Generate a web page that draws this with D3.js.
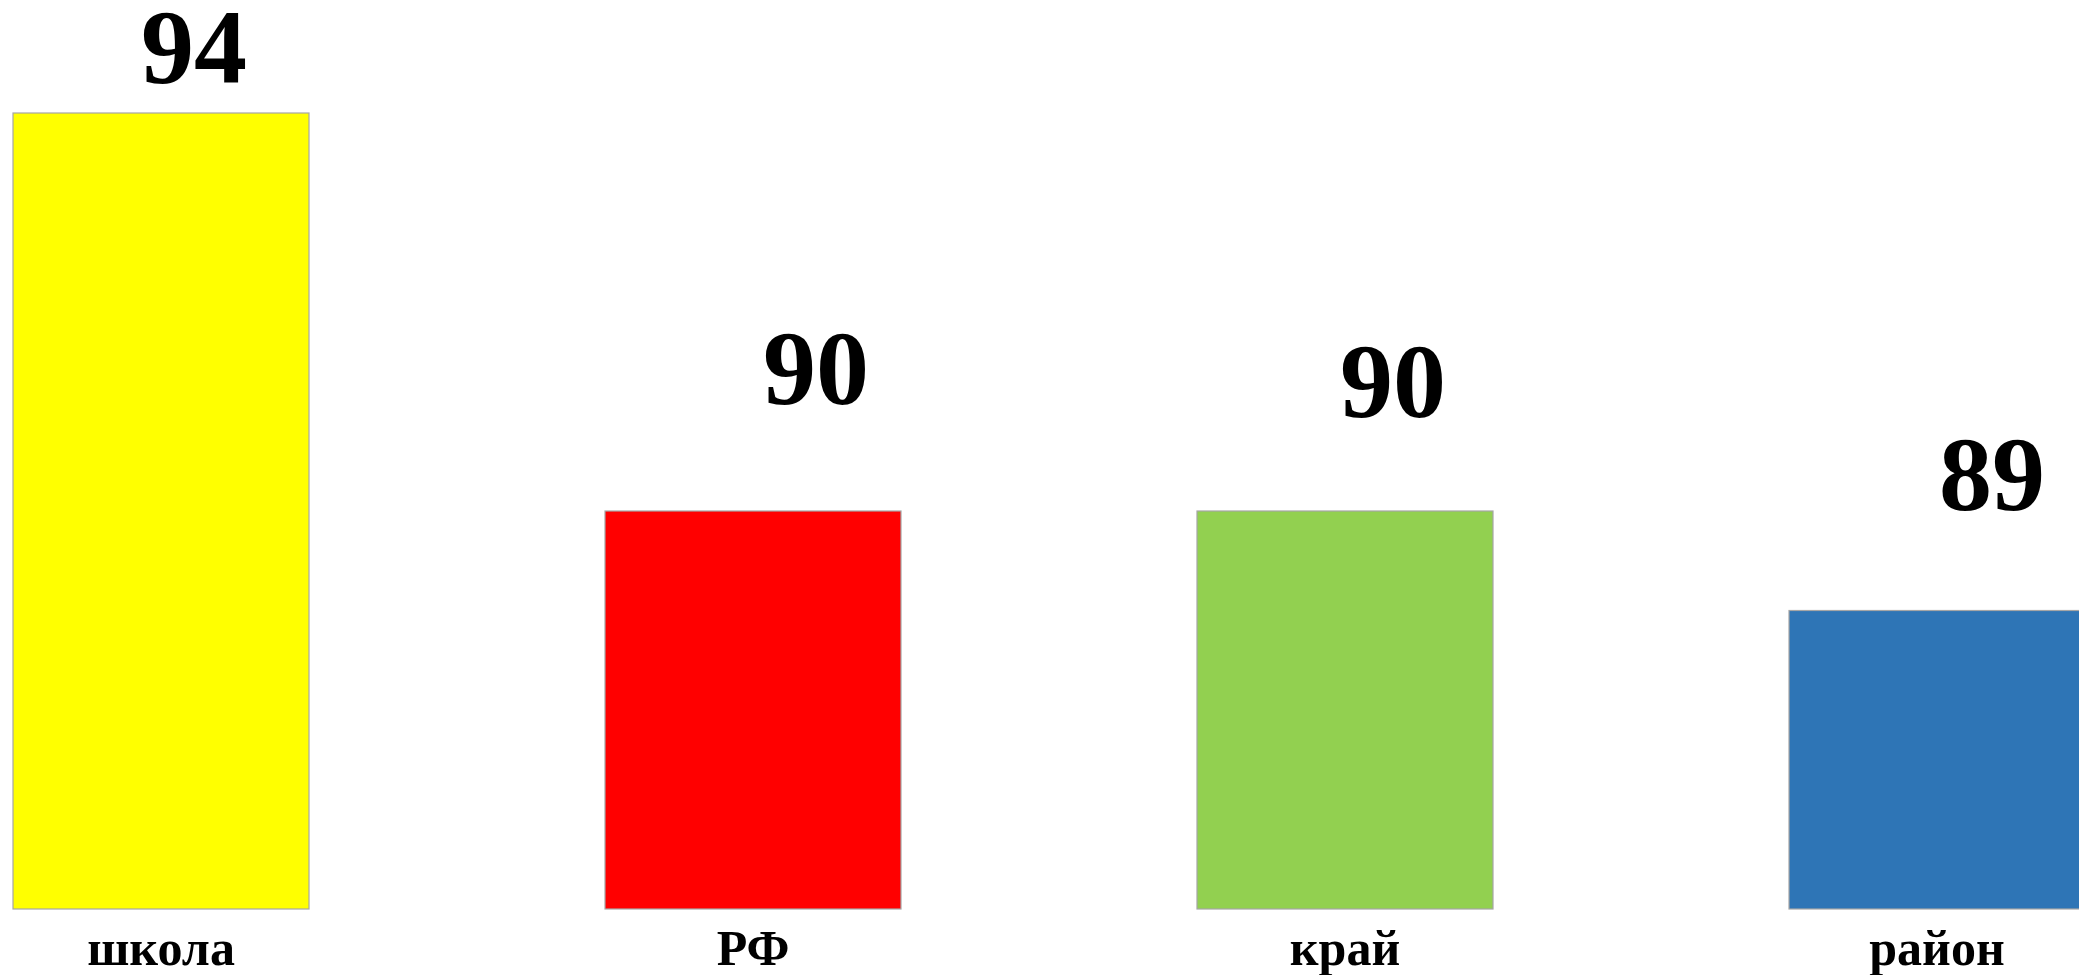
<!DOCTYPE html>
<html>
<head>
<meta charset="utf-8">
<script src="https://cdn.jsdelivr.net/npm/d3@7"></script>
<style>
  html, body { margin: 0; padding: 0; background: #ffffff; overflow: hidden; }
  svg { display: block; }
</style>
</head>
<body>
<svg id="chart" width="2079" height="975"></svg>
<script>
// ---- data ----
const categories = ["школа", "РФ", "край", "район"];
const values = [94, 90, 90, 89];
const colors = ["#FFFF00", "#FF0000", "#92D050", "#2E75B6"];

// ---- layout (manual label nudges, as in the original slide) ----
const labelDx = [33, 63, 48, 55];
const labelGap = [30, 107, 94, 101];

const W = 2079, H = 975;
const svg = d3.select("#chart");

const x = d3.scaleBand()
  .domain(categories)
  .range([13, 2085])
  .paddingInner(0.5)
  .paddingOuter(0);

const y = d3.scaleLinear()
  .domain([86, 94])
  .range([909, 113]);

const font = "'Liberation Serif', 'Times New Roman', serif";

svg.selectAll("rect.bar")
  .data(values)
  .join("rect")
  .attr("class", "bar")
  .attr("x", (d, i) => x(categories[i]))
  .attr("y", d => y(d))
  .attr("width", x.bandwidth())
  .attr("height", d => y.range()[0] - y(d))
  .attr("fill", (d, i) => colors[i])
  .attr("stroke", "#a6a6a6")
  .attr("stroke-width", 1.2);

svg.selectAll("text.val")
  .data(values)
  .join("text")
  .attr("class", "val")
  .attr("x", (d, i) => x(categories[i]) + x.bandwidth() / 2 + labelDx[i])
  .attr("y", (d, i) => y(d) - labelGap[i])
  .attr("text-anchor", "middle")
  .attr("font-family", font)
  .attr("font-weight", "bold")
  .attr("font-size", 106)
  .attr("fill", "#000")
  .text(d => d);

const xAxis = d3.axisBottom(x).tickSize(0).tickPadding(0);
const gx = svg.append("g")
  .attr("transform", `translate(0, ${y.range()[0]})`)
  .call(xAxis);
gx.select(".domain").remove();
gx.selectAll("text")
  .attr("dy", 0)
  .attr("y", 56)
  .attr("font-family", font)
  .attr("font-weight", "bold")
  .attr("font-size", 50)
  .attr("fill", "#000");
</script>
</body>
</html>
